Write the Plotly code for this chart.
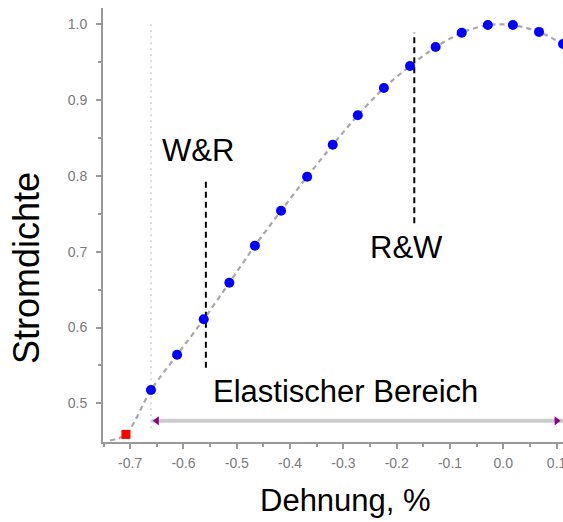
import plotly.graph_objects as go

# Data
strain_blue = [-0.661, -0.612, -0.562, -0.514, -0.466, -0.417, -0.368, -0.320, -0.273,
               -0.224, -0.175, -0.127, -0.078, -0.029, 0.018, 0.067, 0.112]
current_blue = [0.5175, 0.564, 0.611, 0.659, 0.708, 0.754, 0.799, 0.841, 0.880,
                0.916, 0.945, 0.970, 0.989, 0.999, 0.999, 0.990, 0.974]
strain_red = [-0.708]
current_red = [0.459]
curve_start_x = [-0.738]
curve_start_y = [0.451]

dotted_x = -0.661
dotted_y = [0.467, 1.005]
wr_x = -0.558
wr_y = [0.547, 0.797]
rw_x = -0.167
rw_y = [0.7375, 0.989]
elastic_x = [-0.650, 0.100]
elastic_bar_x = [-0.660, 0.112]
elastic_y = 0.477

xtick_vals = [-0.7, -0.6, -0.5, -0.4, -0.3, -0.2, -0.1, 0.0, 0.1]
xtick_text = ["-0.7", "-0.6", "-0.5", "-0.4", "-0.3", "-0.2", "-0.1", "0.0", "0.1"]
ytick_vals = [0.5, 0.6, 0.7, 0.8, 0.9, 1.0]
ytick_text = ["0.5", "0.6", "0.7", "0.8", "0.9", "1.0"]

FONT = "Liberation Sans, Arial, sans-serif"

fig = go.Figure()

# vertical dotted guide
fig.add_trace(go.Scatter(x=[dotted_x, dotted_x], y=dotted_y, mode="lines",
                         line=dict(color="#d0d0d0", width=1.5, dash="2px,4px"),
                         hoverinfo="skip", showlegend=False))

# elastic range bar
fig.add_trace(go.Scatter(x=elastic_bar_x, y=[elastic_y, elastic_y], mode="lines",
                         line=dict(color="#cccccc", width=4),
                         hoverinfo="skip", showlegend=False))
fig.add_trace(go.Scatter(x=[elastic_x[0]], y=[elastic_y], mode="markers",
                         marker=dict(symbol="triangle-left", size=8, color="#8b008b"),
                         showlegend=False))
fig.add_trace(go.Scatter(x=[elastic_x[1]], y=[elastic_y], mode="markers",
                         marker=dict(symbol="triangle-right", size=8, color="#8b008b"),
                         showlegend=False))

# dashed fit curve
fig.add_trace(go.Scatter(x=curve_start_x + strain_red + strain_blue,
                         y=curve_start_y + current_red + current_blue,
                         mode="lines", line=dict(color="#a8a8a8", width=2.2, dash="5px,4px",
                                                 shape="spline", smoothing=0.8),
                         hoverinfo="skip", showlegend=False))

# black dashed markers
fig.add_trace(go.Scatter(x=[wr_x, wr_x], y=wr_y, mode="lines",
                         line=dict(color="black", width=2, dash="6px,4px"), showlegend=False))
fig.add_trace(go.Scatter(x=[rw_x, rw_x], y=rw_y, mode="lines",
                         line=dict(color="black", width=2, dash="6px,4px"), showlegend=False))

# data points
fig.add_trace(go.Scatter(x=strain_blue, y=current_blue, mode="markers",
                         marker=dict(color="#0000ff", size=10, symbol="circle"),
                         cliponaxis=True, showlegend=False))
fig.add_trace(go.Scatter(x=strain_red, y=current_red, mode="markers",
                         marker=dict(color="#ff0000", size=9, symbol="square"),
                         showlegend=False))

ann_font = dict(family=FONT, size=31, color="black")
fig.add_annotation(x=-0.572, y=0.833, text="W&R", showarrow=False, font=ann_font)
fig.add_annotation(x=-0.181, y=0.706, text="R&W", showarrow=False, font=ann_font)
fig.add_annotation(x=-0.2955, y=0.516, text="Elastischer Bereich", showarrow=False, font=ann_font)

# axis titles placed as annotations (paper coords of the plot area)
fig.add_annotation(xref="paper", yref="paper", x=0.528, y=-0.135, text="Dehnung, %",
                   xanchor="center", yanchor="middle",
                   showarrow=False, font=dict(family=FONT, size=31, color="black"))
fig.add_annotation(xref="paper", yref="paper", x=-0.165, y=0.401, text="Stromdichte",
                   xanchor="center", yanchor="middle", textangle=-90, showarrow=False,
                   font=dict(family=FONT, size=36, color="black"))

axis_common = dict(showgrid=False, zeroline=False, showline=True, linecolor="#999999",
                   linewidth=2, ticks="outside", ticklen=5, tickwidth=1.5, tickcolor="#999999",
                   tickfont=dict(family=FONT, size=14, color="#7a7a7a"), automargin=False,
                   ticklabeloverflow="allow",
                   minor=dict(ticks="outside", ticklen=3, tickwidth=1.5, tickcolor="#999999"))

fig.update_xaxes(range=[-0.751, 0.112], tickvals=xtick_vals, ticktext=xtick_text,
                 ticklabelstandoff=2, **axis_common)
fig.update_xaxes(minor=dict(tickvals=[-0.75, -0.65, -0.55, -0.45, -0.35, -0.25, -0.15, -0.05, 0.05]))
fig.update_yaxes(range=[0.449, 1.0215], tickvals=ytick_vals, ticktext=ytick_text,
                 ticklabelstandoff=6, **axis_common)
fig.update_yaxes(minor=dict(tickvals=[0.55, 0.65, 0.75, 0.85, 0.95]))

fig.update_layout(width=563, height=522,
                  margin=dict(l=103, r=0, t=8, b=80, autoexpand=False),
                  plot_bgcolor="white", paper_bgcolor="white", showlegend=False)

fig.write_html("out.html", config={"displayModeBar": False},
               post_script="document.body.style.margin='0';document.body.style.overflow='hidden';")
